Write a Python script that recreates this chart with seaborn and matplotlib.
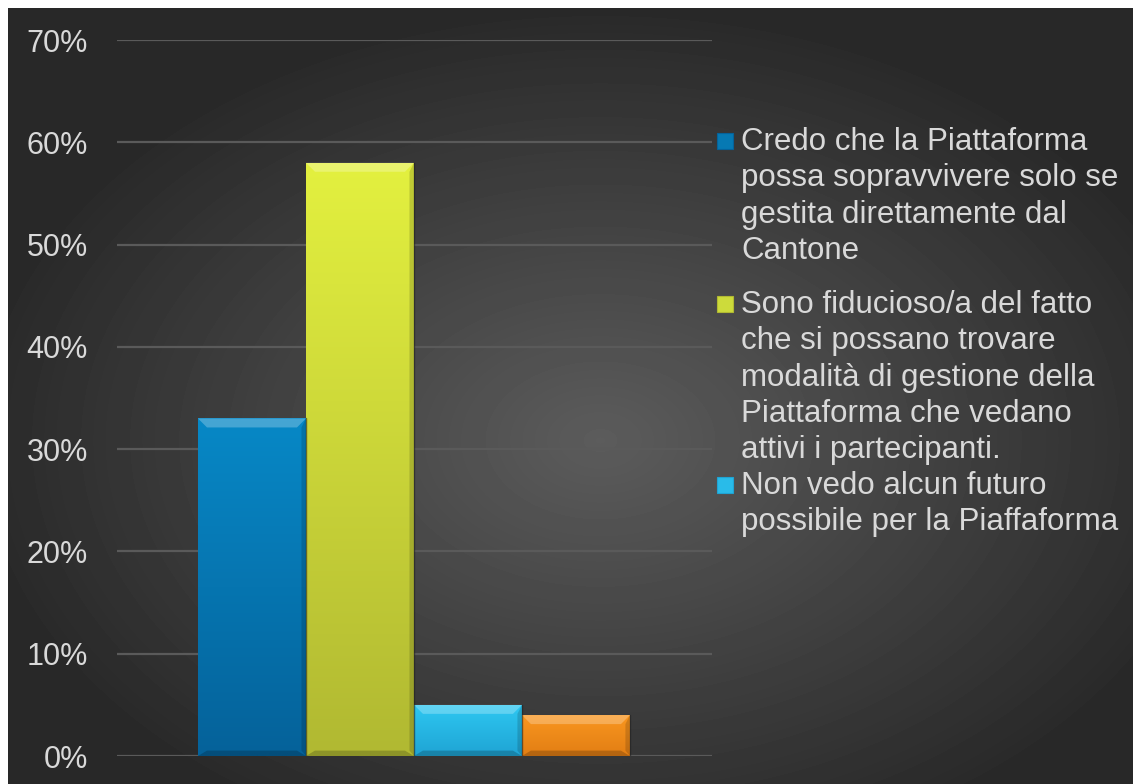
import matplotlib
matplotlib.use("Agg")
import matplotlib.pyplot as plt
import numpy as np
import seaborn as sns
from matplotlib.patches import Rectangle, Polygon
from matplotlib.ticker import PercentFormatter

# Dati del grafico (risposte al sondaggio sul futuro della Piattaforma)
risposte = [
    "Credo che la Piattaforma possa sopravvivere solo se gestita direttamente dal Cantone",
    "Sono fiducioso/a del fatto che si possano trovare modalità di gestione della Piattaforma che vedano attivi i partecipanti.",
    "Non vedo alcun futuro possibile per la Piaffaforma",
    "Altro",
]
percentuali = [0.33, 0.58, 0.05, 0.04]
colori = ["#0679b3", "#cddb3b", "#29bbe9", "#f38c1a"]
colori_alto = ["#0788c6", "#e3f03f", "#2ec8f2", "#f9961f"]
colori_basso = ["#05629a", "#b1b932", "#1fa4d4", "#e27e14"]
tick_y = [0, 0.1, 0.2, 0.3, 0.4, 0.5, 0.6, 0.7]

# righe della legenda, come vanno a capo nell'originale (solo 3 voci visibili)
legenda = [
    ["Credo che la Piattaforma", "possa sopravvivere solo se", "gestita direttamente dal", "Cantone"],
    ["Sono fiducioso/a del fatto", "che si possano trovare", "modalità di gestione della",
     "Piattaforma che vedano", "attivi i partecipanti."],
    ["Non vedo alcun futuro", "possibile per la Piaffaforma"],
]

W, H = 1133, 784
testo = "#d9d9d9"

sns.set_style("white")
plt.rcParams["font.family"] = ["Liberation Sans", "DejaVu Sans"]

fig = plt.figure(figsize=(W / 100, H / 100), dpi=100, facecolor="white")

# sfondo con sfumatura radiale
bg = fig.add_axes([8 / W, 0, (W - 8) / W, (H - 8) / H], zorder=-5)
yy, xx = np.mgrid[8:H, 8:W]
r = np.sqrt(((xx - 600) / 640) ** 2 + ((yy - 440) / 440) ** 2)
r = np.clip(r, 0, 1)
val = (92 - 52 * r) / 255
bg.imshow(val, cmap="gray", vmin=0, vmax=1, aspect="auto", interpolation="bilinear")
bg.axis("off")

left, right = 117 / W, 712 / W
bottom, top = 1 - 756 / H, 1 - 40 / H
ax = fig.add_axes([left, bottom, right - left, top - bottom])
ax.set_facecolor("none")

sns.barplot(x=risposte, y=percentuali, hue=risposte, palette=colori,
            width=1, legend=False, ax=ax, zorder=3, linewidth=0)

ax.set_xlim(-1.25, 4.26)
ax.set_ylim(0, 0.7)
ax.set_yticks(tick_y)
ax.yaxis.set_major_formatter(PercentFormatter(1.0, decimals=0))
ax.set_xticks([])
ax.set_xlabel("")
ax.set_ylabel("")
ax.tick_params(axis="y", length=0, pad=21, labelsize=22, labelcolor=testo)
for s in ax.spines.values():
    s.set_visible(False)
ax.grid(axis="y", color="#5a5a5a", linewidth=1.6, zorder=0)
ax.set_axisbelow(True)

# effetto rilievo delle barre: sfumatura verticale + smusso in alto e in basso
ax_w_px = (right - left) * W
ax_h_px = (top - bottom) * H
dx = 9 / ax_w_px * (4.26 + 1.25)
dy = 9 / ax_h_px * 0.7
for i, p in enumerate(ax.patches):
    x0, w, h = p.get_x(), p.get_width(), p.get_height()
    x1 = x0 + w
    grad = np.linspace(0, 1, 64).reshape(-1, 1)
    c1 = np.array(matplotlib.colors.to_rgb(colori_alto[i]))
    c2 = np.array(matplotlib.colors.to_rgb(colori_basso[i]))
    img = c1 * (1 - grad[..., None]) + c2 * grad[..., None]
    im = ax.imshow(img, extent=(x0, x1, 0, h), aspect="auto", zorder=4,
                   interpolation="bilinear")
    im.set_clip_path(p)
    d = min(dy, h / 3)
    ax.add_patch(Polygon([(x0, h), (x1, h), (x1 - dx, h - d), (x0 + dx, h - d)],
                         closed=True, color="white", alpha=0.25, lw=0, zorder=5))
    ax.add_patch(Polygon([(x0, 0), (x1, 0), (x1 - dx, d * 0.6), (x0 + dx, d * 0.6)],
                         closed=True, color="black", alpha=0.2, lw=0, zorder=5))
    ax.add_patch(Polygon([(x1, 0), (x1, h), (x1 - dx * 0.5, h - d), (x1 - dx * 0.5, d * 0.6)],
                         closed=True, color="black", alpha=0.15, lw=0, zorder=5))
    ax.plot([x1, x1], [0, h], color="#222222", lw=1, alpha=0.6, zorder=6)

# legenda disegnata a mano, come nell'originale
basi = [150, 313, 494]
passo = 36.3
for i, righe in enumerate(legenda):
    b = basi[i]
    fig.patches.append(Rectangle((717 / W, 1 - (b - 1) / H), 16 / W, 16 / H,
                                 transform=fig.transFigure, facecolor=colori[i],
                                 edgecolor=colori_basso[i], lw=0.8))
    for j, riga in enumerate(righe):
        fig.text(741 / W, 1 - (b + j * passo) / H, riga, color=testo,
                 fontsize=22.5, va="baseline", ha="left")

fig.savefig("out.png", dpi=100, facecolor="white")
